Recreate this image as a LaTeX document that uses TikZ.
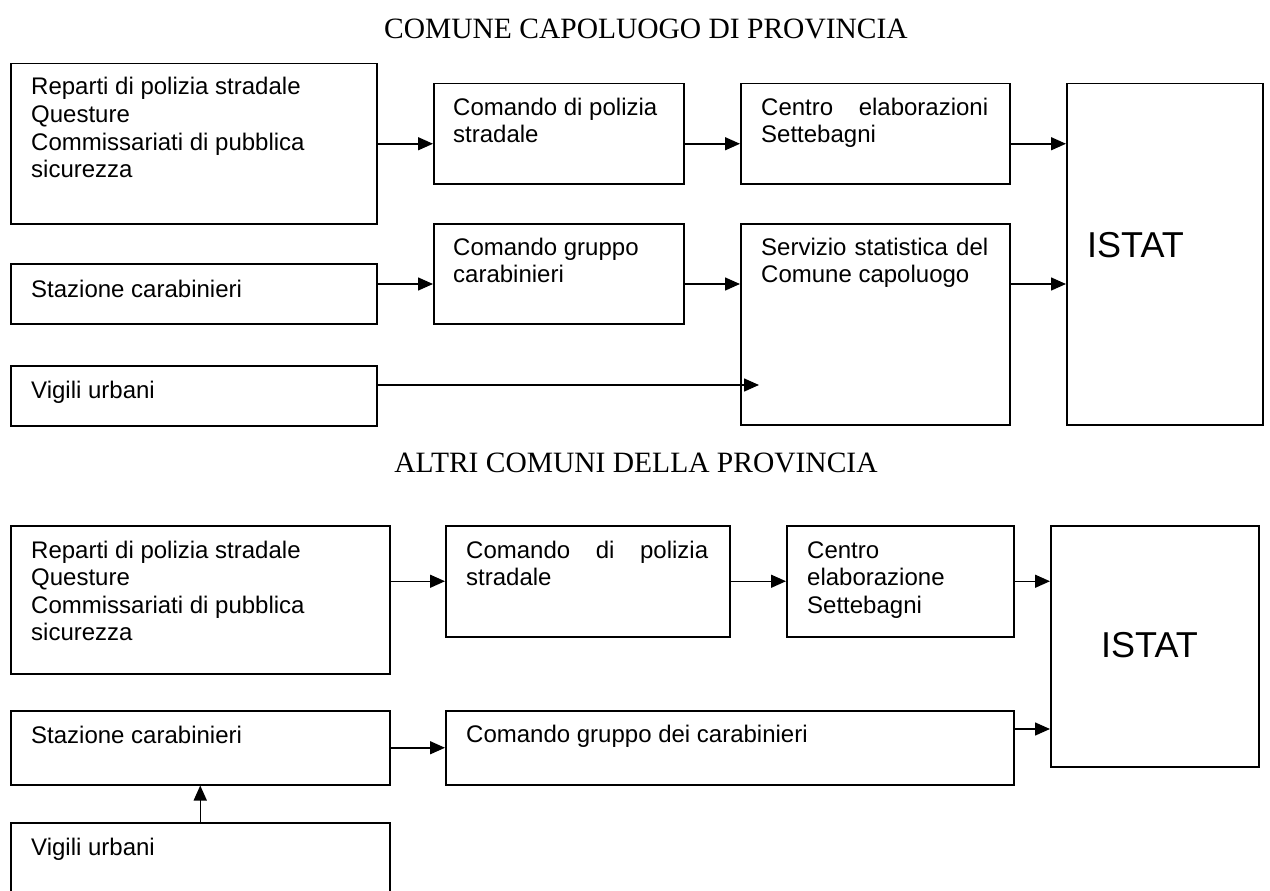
\documentclass[tikz,border=0pt]{standalone}
\usepackage{fontspec}
\setmainfont{Liberation Sans}
\newfontfamily\titlefont{Liberation Serif}
\usetikzlibrary{arrows.meta,calc}
\begin{document}
\begin{tikzpicture}[x=1pt,y=-1pt,
  box/.style={draw=black,line width=1.5pt,rectangle,inner sep=0pt,anchor=north west},
  txt/.style={inner sep=0pt,anchor=base west,font=\fontsize{24}{27.6}\selectfont},
  ttl/.style={inner sep=0pt,anchor=base,font=\titlefont\fontsize{29.5}{34}\selectfont},
  big/.style={inner sep=0pt,anchor=base west,font=\fontsize{36}{40}\selectfont},
  arr/.style={line width=1.5pt,-{Triangle[length=15pt,width=13pt]}}]
\useasboundingbox (0,0) rectangle (1270,891);
% titles
\node[ttl] (t1) at (646,39) {COMUNE CAPOLUOGO DI PROVINCIA};
\node[ttl] (t2) at (636,472) {ALTRI COMUNI DELLA PROVINCIA};
% ---- top section
\node[box,minimum width=366pt,minimum height=160pt] (rep1) at (10,63) {};
\node[box,minimum width=366pt,minimum height=60pt] (sta1) at (10,263) {};
\node[box,minimum width=366pt,minimum height=60pt] (vig1) at (10,365) {};
\node[box,minimum width=250pt,minimum height=100pt] (com1) at (433,83) {};
\node[box,minimum width=250pt,minimum height=100pt] (cgr1) at (433,223) {};
\node[box,minimum width=269pt,minimum height=100pt] (cen1) at (740,83) {};
\node[box,minimum width=269pt,minimum height=201pt] (ser1) at (740,223) {};
\node[box,minimum width=196pt,minimum height=341pt] (ist1) at (1066,83) {};
\node[txt] (rep1t) at (31,95) {\parbox[t]{340pt}{Reparti di polizia stradale\\Questure\\Commissariati di pubblica\\sicurezza}};
\node[txt] (sta1t) at (31,297) {Stazione carabinieri};
\node[txt] (vig1t) at (31,398) {Vigili urbani};
\node[txt] (com1t) at (453,115) {\parbox[t]{208pt}{Comando di polizia\\stradale}};
\node[txt] (cgr1t) at (453,255) {\parbox[t]{208pt}{Comando gruppo\\carabinieri}};
\node[txt] (cen1t) at (761,115) {\parbox[t]{227pt}{Centro\hfill elaborazioni\\Settebagni}};
\node[txt] (ser1t) at (761,255) {\parbox[t]{227pt}{Servizio\hfill statistica\hfill del\\Comune capoluogo}};
\node[big] (ist1t) at (1087,257) {ISTAT};
\draw[arr] (rep1.east) -- (rep1.east -| com1.west);
\draw[arr] (com1.east |- rep1.east) -- (cen1.west |- rep1.east);
\draw[arr] (cen1.east |- rep1.east) -- (ist1.west |- rep1.east);
\coordinate (staout) at ($(sta1.north east)+(0,21)$);
\draw[arr] (staout) -- (staout -| cgr1.west);
\draw[arr] (cgr1.east |- staout) -- (ser1.west |- staout);
\draw[arr] (ser1.east |- staout) -- (ist1.west |- staout);
\coordinate (vigout) at ($(vig1.north east)+(0,20)$);
\coordinate (vigend) at ($(vigout -| ser1.west)+(19,0)$);
\draw[arr] (vigout) -- (vigend);
% ---- bottom section
\node[box,minimum width=379pt,minimum height=148pt] (rep2) at (10,525) {};
\node[box,minimum width=379pt,minimum height=74pt] (sta2) at (10,710) {};
\node[box,minimum width=379pt,minimum height=100pt] (vig2) at (10,822) {};
\node[box,minimum width=284pt,minimum height=111pt] (com2) at (445,525) {};
\node[box,minimum width=568pt,minimum height=74pt] (cgd2) at (445,710) {};
\node[box,minimum width=227pt,minimum height=111pt] (cen2) at (786,525) {};
\node[box,minimum width=208pt,minimum height=241pt] (ist2) at (1050,525) {};
\node[txt] (rep2t) at (31,558) {\parbox[t]{340pt}{Reparti di polizia stradale\\Questure\\Commissariati di pubblica\\sicurezza}};
\node[txt] (sta2t) at (31,743) {Stazione carabinieri};
\node[txt] (vig2t) at (31,855) {Vigili urbani};
\node[txt] (com2t) at (466,558) {\parbox[t]{242pt}{Comando\hfill di\hfill polizia\\stradale}};
\node[txt] (cgd2t) at (466,742) {Comando gruppo dei carabinieri};
\node[txt] (cen2t) at (807,558) {\parbox[t]{185pt}{Centro\\elaborazione\\Settebagni}};
\node[big] (ist2t) at (1101,657) {ISTAT};
\draw[arr] (rep2.east |- com2.west) -- (com2.west);
\draw[arr] (com2.east) -- (cen2.west);
\draw[arr] (cen2.east) -- (cen2.east -| ist2.west);
\draw[arr] (sta2.east) -- (sta2.east -| cgd2.west);
\coordinate (cgdout) at ($(cgd2.north east)+(0,19)$);
\draw[arr] (cgdout) -- (cgdout -| ist2.west);
\draw[arr] (vig2.north) -- (sta2.south);
\end{tikzpicture}
\end{document}
